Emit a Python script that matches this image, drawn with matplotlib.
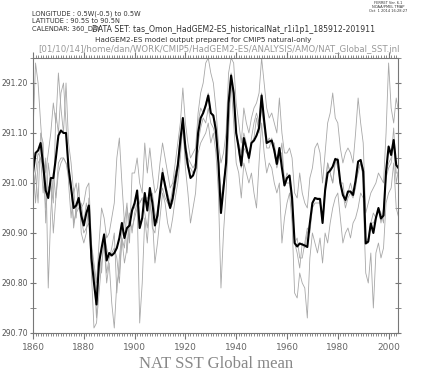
import matplotlib
matplotlib.use("Agg")
import matplotlib.pyplot as plt
from matplotlib.ticker import MultipleLocator, FormatStrFormatter
import numpy as np

# ---- data (annual, 1860-2004) ----
start_year = 1860

ens_mean = [
    291.02, 291.06, 291.065, 291.08, 291.035, 290.985, 290.97, 291.01, 291.01, 291.05,
    291.095, 291.105, 291.10, 291.10, 291.03, 290.99, 290.95, 290.955, 290.97, 290.935,
    290.915, 290.94, 290.955, 290.85, 290.80, 290.757, 290.84, 290.87, 290.897, 290.845,
    290.86, 290.855, 290.86, 290.87, 290.89, 290.92, 290.89, 290.91, 290.915, 290.945,
    290.96, 290.985, 290.91, 290.93, 290.98, 290.945, 290.99, 290.96, 290.915, 290.935,
    290.98, 291.02, 290.995, 290.97, 290.95, 290.97, 291.005, 291.035, 291.085, 291.13,
    291.07, 291.035, 291.01, 291.015, 291.03, 291.10, 291.13, 291.14, 291.155, 291.175,
    291.14, 291.135, 291.105, 291.04, 290.94, 290.99, 291.04, 291.16, 291.215, 291.18,
    291.10, 291.07, 291.035, 291.09, 291.07, 291.05, 291.08, 291.085, 291.095, 291.11,
    291.175, 291.125, 291.08, 291.083, 291.085, 291.065, 291.038, 291.07, 291.03, 290.995,
    291.01, 291.015, 290.97, 290.88, 290.873, 290.879, 290.877, 290.875, 290.872, 290.92,
    290.96, 290.97, 290.968, 290.968, 290.92, 290.985, 291.02, 291.025, 291.033, 291.048,
    291.046, 291.00, 290.976, 290.966, 290.983, 290.983, 290.976, 291.005, 291.043, 291.046,
    291.023, 290.879, 290.883, 290.919, 290.90, 290.93, 290.95, 290.929, 290.935, 291.023,
    291.073, 291.056, 291.086, 291.036, 291.029,
]

member_1 = [
    291.10, 291.24, 291.20, 291.12, 291.05, 291.02, 291.06, 291.10, 291.16, 291.12,
    291.22, 291.15, 291.10, 291.20, 291.08, 291.04, 290.98, 291.00, 290.96, 290.95,
    290.96, 290.99, 291.00, 290.88, 290.84, 290.80, 290.88, 290.95, 290.93, 290.89,
    290.90, 290.93, 290.96, 291.05, 291.09, 291.00, 290.92, 290.96, 290.88, 291.02,
    291.02, 291.05, 291.00, 290.98, 291.08, 291.02, 291.07, 291.02, 290.98, 290.99,
    291.04, 291.08, 291.05, 291.02, 290.99, 291.00, 291.04, 291.08, 291.12, 291.19,
    291.12, 291.08, 291.05, 291.06, 291.07, 291.14, 291.18, 291.20, 291.24, 291.25,
    291.22, 291.20, 291.15, 291.08, 291.04, 291.06, 291.10, 291.22, 291.25, 291.24,
    291.16, 291.12, 291.08, 291.15, 291.12, 291.10, 291.13, 291.15, 291.16, 291.18,
    291.25, 291.20, 291.15, 291.13, 291.14, 291.12, 291.10, 291.17, 291.10, 291.06,
    291.06, 291.07, 291.05, 290.98, 290.97, 291.02, 290.98, 290.96, 290.95, 291.01,
    291.03, 291.07, 291.08, 291.06, 291.00, 291.06, 291.12, 291.14, 291.18, 291.13,
    291.12, 291.07, 291.04, 291.06, 291.07, 291.06, 291.04, 291.10, 291.17, 291.12,
    291.08, 290.94, 290.96, 290.98, 290.99, 291.00, 291.02, 291.01, 291.00, 291.10,
    291.24, 291.15, 291.12, 291.17, 291.14,
]

member_2 = [
    290.98, 291.02, 290.96, 291.10, 291.08, 290.92, 291.04, 291.00, 290.96, 291.14,
    291.10, 291.18, 291.20, 291.12, 291.00, 290.93, 290.99, 290.93, 291.00, 290.90,
    290.88, 290.90, 290.97, 290.82, 290.71, 290.72, 290.78, 290.84, 290.88, 290.80,
    290.84, 290.76, 290.71, 290.80, 290.82, 290.89, 290.84, 290.87, 290.94, 290.90,
    290.94, 290.96, 290.72, 290.80, 290.93, 290.88, 290.96, 290.93, 290.84, 290.88,
    290.93, 290.98, 290.96, 290.92, 290.90, 290.93, 290.97, 291.00, 291.05, 291.12,
    291.03, 290.98, 290.92, 290.95, 290.98, 291.06, 291.08, 291.09, 291.10, 291.12,
    291.08, 291.10, 291.06, 290.98, 290.79, 290.90, 290.98, 291.10, 291.20, 291.12,
    291.04, 291.02, 290.97, 291.04, 291.02, 291.00, 291.02, 290.98, 290.95, 291.04,
    291.12, 291.06, 291.02, 291.04, 291.03, 291.00, 290.98, 291.00, 290.88, 290.93,
    290.96, 290.98, 290.92, 290.78, 290.77, 290.82, 290.80, 290.79, 290.73, 290.85,
    290.90, 290.88, 290.86, 290.89, 290.84, 290.90, 290.88, 290.92, 290.95, 290.97,
    290.98, 290.93, 290.88, 290.90, 290.91, 290.89, 290.92, 290.93, 290.95, 290.98,
    290.97, 290.82, 290.80, 290.86, 290.75, 290.86, 290.88, 290.85, 290.87, 290.96,
    290.98, 290.99, 291.04, 290.95, 290.93,
]

member_3 = [
    291.04, 290.96, 291.04, 291.05, 290.98, 291.05, 290.79, 290.94, 291.02, 290.97,
    291.02, 291.04, 291.05, 291.04, 291.01, 290.99, 290.92, 290.94, 290.95, 290.96,
    290.92, 290.96, 290.93, 290.87, 290.83, 290.78, 290.86, 290.82, 290.90, 290.87,
    290.85, 290.87, 290.90, 290.78, 290.85, 290.90, 290.93, 290.86, 290.92, 290.95,
    290.95, 290.98, 290.96, 290.97, 290.94, 290.91, 290.96, 290.98, 290.94, 290.92,
    290.98, 291.03, 291.00, 290.98, 290.96, 290.99, 291.02, 291.04, 291.10, 291.10,
    291.08, 291.05, 291.04, 291.03, 291.04, 291.12, 291.15, 291.14, 291.16, 291.18,
    291.14, 291.13, 291.12, 291.05, 290.96, 291.00, 291.04, 291.16, 291.22, 291.17,
    291.10, 291.08, 291.06, 291.10, 291.08, 291.04, 291.09, 291.12, 291.14, 291.12,
    291.18, 291.13, 291.08, 291.09, 291.08, 291.08, 291.04, 291.06, 291.06, 291.00,
    291.02, 291.01, 290.96, 290.88, 290.86, 290.83, 290.88, 290.87, 290.90, 290.92,
    290.96, 290.97, 290.97, 290.97, 290.92, 291.00, 291.04, 291.02, 291.00, 291.04,
    291.05, 291.00, 291.00, 290.96, 290.98, 291.00, 290.98, 291.00, 291.02, 291.04,
    291.03, 290.88, 290.89, 290.92, 290.94, 290.93, 290.95, 290.94, 290.92, 291.02,
    291.04, 291.05, 291.11, 291.02, 291.02,
]

member_4 = [
    290.96, 291.02, 291.06, 291.05, 291.03, 290.95, 290.99, 291.00, 290.90, 290.97,
    291.04, 291.05, 291.05, 291.04, 291.03, 291.00, 290.91, 290.95, 290.97, 290.93,
    290.90, 290.91, 290.92, 290.83, 290.82, 290.73, 290.84, 290.87, 290.88, 290.82,
    290.85, 290.86, 290.87, 290.85, 290.80, 290.89, 290.87, 290.95, 290.92, 290.91,
    290.93, 290.95, 290.96, 290.97, 290.97, 290.97, 290.97, 290.91, 290.90, 290.95,
    290.97, 290.99, 290.97, 290.96, 290.95, 290.96, 290.99, 291.02, 291.07, 291.11,
    291.05, 291.03, 291.03, 291.02, 291.03, 291.08, 291.11, 291.13, 291.12, 291.15,
    291.12, 291.11, 291.09, 291.05, 290.97, 291.00, 291.04, 291.16, 291.19, 291.19,
    291.10, 291.06, 291.03, 291.07, 291.06, 291.06, 291.08, 291.09, 291.13, 291.10,
    291.15, 291.11, 291.07, 291.07, 291.09, 291.06, 291.03, 291.05, 291.08, 291.00,
    291.00, 291.00, 290.95, 290.88, 290.89, 290.85, 290.85, 290.88, 290.91, 290.90,
    290.95, 290.96, 290.96, 290.96, 290.92, 290.98, 291.04, 291.02, 291.00, 291.05,
    291.03, 291.00, 290.98, 290.95, 290.97, 290.98, 290.97, 290.99, 291.03, 291.04,
    291.01, 290.88, 290.88, 290.92, 290.92, 290.93, 290.95, 290.92, 290.95, 291.01,
    291.03, 291.04, 291.08, 291.00, 291.03,
]

years = np.arange(start_year, start_year + len(ens_mean))

# ---- figure ----
fig = plt.figure(figsize=(4.22, 3.74), dpi=100)
ax = fig.add_axes([33 / 422, 1 - 333 / 374, (398 - 33) / 422, (333 - 58) / 374])

for m in (member_1, member_2, member_3, member_4):
    ax.plot(years, m, color="#a8a8a8", lw=0.6)
ax.plot(years, ens_mean, color="black", lw=1.5)

ax.set_xlim(1860, 2003.7)
ax.set_ylim(290.70, 291.25)

axis_grey = "#777777"
for s in ax.spines.values():
    s.set_color(axis_grey)
    s.set_linewidth(0.8)

ax.xaxis.set_major_locator(MultipleLocator(20))
ax.xaxis.set_minor_locator(MultipleLocator(1))
ax.yaxis.set_major_locator(MultipleLocator(0.1))
ax.yaxis.set_minor_locator(MultipleLocator(0.05))
ax.yaxis.set_major_formatter(FormatStrFormatter("%.2f"))

ax.tick_params(axis="x", which="both", direction="out", colors=axis_grey,
               top=True, labeltop=False)
ax.tick_params(axis="x", which="major", length=4, labelsize=6.5, labelcolor="#666666", pad=3)
ax.tick_params(axis="x", which="minor", length=2.2)
ax.tick_params(axis="y", which="both", colors=axis_grey, left=True, right=True,
               direction="inout", length=5)
ax.tick_params(axis="y", which="major", labelsize=5.5, labelcolor="#555555", pad=1)

# ---- header texts ----
hdr = "#333333"
fig.text(32 / 422, 1 - 14 / 374, "LONGITUDE : 0.5W(-0.5) to 0.5W", fontsize=4.8, color=hdr, va="center")
fig.text(32 / 422, 1 - 21 / 374, "LATITUDE : 90.5S to 90.5N", fontsize=4.8, color=hdr, va="center")
fig.text(32 / 422, 1 - 29 / 374, "CALENDAR: 360_DAY", fontsize=4.8, color=hdr, va="center")
fig.text(92 / 422, 1 - 29 / 374,
         "DATA SET: tas_Omon_HadGEM2-ES_historicalNat_r1i1p1_185912-201911",
         fontsize=5.6, color=hdr, va="center")
fig.text(203 / 422, 1 - 40 / 374, "HadGEM2-ES model output prepared for CMIP5 natural-only",
         fontsize=5.2, color=hdr, va="center", ha="center")
fig.text(219 / 422, 1 - 50 / 374,
         "[01/10/14]/home/dan/WORK/CMIP5/HadGEM2-ES/ANALYSIS/AMO/NAT_Global_SST.jnl",
         fontsize=6.2, color="#999999", va="center", ha="center")
fig.text(388 / 422, 1 - 3 / 374, "FERRET Ver. 6.1", fontsize=2.6, color=hdr, ha="center", va="center")
fig.text(388 / 422, 1 - 7 / 374, "NOAA/PMEL TMAP", fontsize=2.6, color=hdr, ha="center", va="center")
fig.text(388 / 422, 1 - 11 / 374, "Oct  1 2014 16:28:27", fontsize=2.6, color=hdr, ha="center", va="center")

fig.text(216 / 422, 1 - 364 / 374, "NAT SST Global mean", fontsize=12, color="#888888",
         family="Liberation Serif", ha="center", va="center")

fig.savefig("out.png", dpi=100)
